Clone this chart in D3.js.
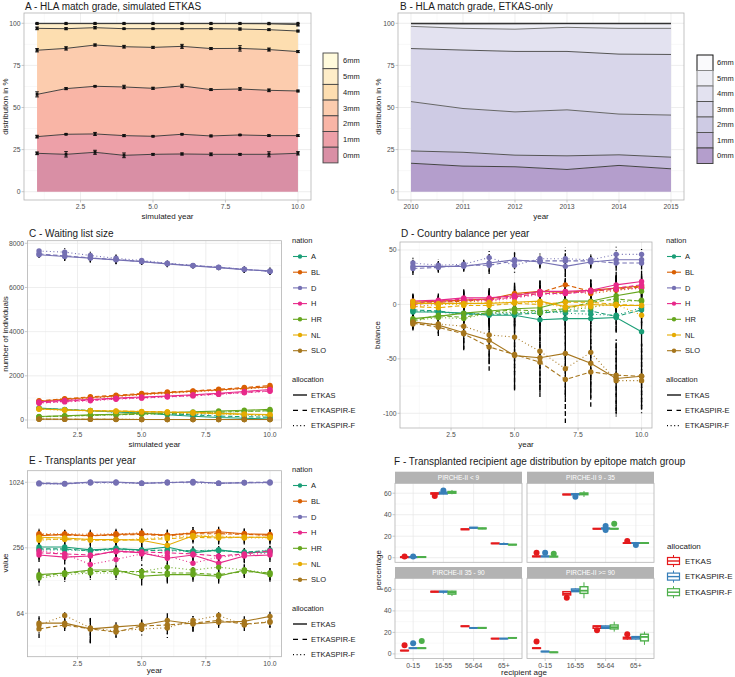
<!DOCTYPE html>
<html><head><meta charset="utf-8">
<script src="https://cdn.jsdelivr.net/npm/d3@7"></script>
<style>body{margin:0;background:#fff}</style>
</head><body><script>
// ---------------- DATA ----------------
const simYears = [1,2,3,4,5,6,7,8,9,10];
const realYears = [2010,2011,2012,2013,2014,2015];
const grades = ["0mm","1mm","2mm","3mm","4mm","5mm","6mm"];
// Panel A: cumulative upper boundary (%) of each grade per simulated year
const simCum0 = [22.8,22.2,23.4,21.6,22.2,22.4,22.2,22.2,22.2,22.8];
const simCum1 = [32.7,34.1,34.3,33.3,32.9,34.1,33.1,33.7,33.3,33.3];
const simCum2 = [57.8,61.2,62.6,62.2,61.4,62.8,60.6,61.0,60.2,59.8];
const simCum3 = [84.0,85.1,87.1,86.1,85.7,86.3,85.0,85.1,84.4,83.2];
const simCum4 = [97.0,96.8,97.4,96.8,96.8,96.8,96.8,96.6,96.2,95.4];
const simCum5 = [99.8,99.8,99.8,99.8,99.8,99.8,99.8,99.8,99.7,99.2];
const simCum6 = [100,100,100,100,100,100,100,100,100,100];
const simErr0 = [0.8,1.6,1.2,1.4,0.5,0.6,0.8,0.5,1.5,1.0];
const simErr1 = [0.8,0.3,0.9,0.6,0.3,0.3,0.5,0.3,0.5,0.5];
const simErr2 = [1.5,0.6,0.3,1.0,0.6,1.0,0.5,0.8,0.8,0.5];
const simErr3 = [1.0,1.0,0.6,0.8,0.6,1.2,0.6,1.6,0.9,0.6];
const simErr4 = [0.8,0.6,0.7,0.3,0.3,0.3,0.5,0.6,0.5,0.5];
const simErr5 = [0.2,0.2,0.2,0.2,0.2,0.2,0.2,0.2,0.3,0.8];
const simErr6 = [0,0,0,0,0,0,0,0,0,0];
// Panel B: observed ETKAS cumulative boundaries
const obsCum0 = [16.9,15.2,14.8,13.2,15.6,13.6];
const obsCum1 = [24.2,23.4,21.7,21.3,21.9,20.5];
const obsCum2 = [53.5,49.4,47.4,48.6,46.1,45.5];
const obsCum3 = [85.0,84.1,83.3,83.3,81.7,81.5];
const obsCum4 = [98.2,97.0,96.5,97.6,97.0,97.0];
const obsCum5 = [99.6,99.4,99.5,99.7,99.6,99.6];
const obsCum6 = [100,100,100,100,100,100];

const nations = ["A","BL","D","H","HR","NL","SLO"];
const allocations = ["ETKAS","ETKASPIR-E","ETKASPIR-F"];
// Panel C: waiting list size [ETKAS, ETKASPIR-E, ETKASPIR-F]
const waitA   = [[540,470,420,360,320,240,170,110,80,40],[520,480,430,380,330,280,230,180,150,120],[520,470,410,360,310,270,240,300,230,180]];
const waitBL  = [[850,940,1020,1090,1170,1240,1300,1360,1440,1500],[870,960,1050,1120,1200,1270,1320,1390,1470,1560],[820,910,990,1060,1140,1210,1270,1340,1410,1480]];
const waitD   = [[7480,7400,7330,7250,7170,7070,6980,6900,6810,6750],[7520,7430,7340,7260,7180,7080,6990,6910,6820,6730],[7650,7600,7450,7320,7220,7100,7000,6920,6830,6720]];
const waitH   = [[820,890,930,990,1040,1080,1140,1210,1290,1380],[780,850,900,960,1010,1060,1110,1180,1250,1320],[760,820,870,940,990,1040,1090,1160,1230,1300]];
const waitHR  = [[160,190,230,260,300,330,370,410,440,480],[150,180,210,240,270,300,330,360,390,420],[140,170,200,230,260,290,320,350,380,420]];
const waitNL  = [[500,450,420,400,380,360,340,300,270,250],[510,460,430,410,390,370,330,290,250,230],[490,440,410,380,360,350,310,280,240,210]];
const waitSLO = [[40,35,30,30,25,25,20,20,20,20],[35,30,30,25,25,20,20,20,20,20],[40,35,30,30,25,25,25,20,20,20]];
const waitErr = [[40,40,40,40,40,40,40,40,40,40],[50,50,50,50,50,50,60,60,60,60],[150,200,200,200,150,150,120,120,150,150],[50,50,50,50,50,50,60,60,60,60],[30,30,30,30,30,30,30,30,30,30],[40,40,40,40,40,40,40,40,40,40],[10,10,10,10,10,10,10,10,10,10]];
// Panel D: country balance
const balA   = [[-7,-7,-8,-10,-10,-14,-13,-13,-12,-25],[-5,-6,-9,-9,-9,-8,-6,-6,-11,-5],[-6,-7,-9,-8,-8,-6,-8,-9,-10,-3]];
const balBL  = [[2,3,4,5,10,12,11,13,15,17],[0,2,3,5,9,11,18,12,14,16],[-2,0,2,4,7,10,12,10,13,15]];
const balD   = [[35,35,35,38,41,39,35,39,41,41],[33,34,36,36,40,40,40,40,38,38],[38,36,37,43,36,42,42,41,46,46]];
const balH   = [[3,4,6,6,8,12,12,13,18,21],[1,3,5,4,7,10,10,12,15,18],[0,2,4,3,6,9,10,12,14,15]];
const balHR  = [[-13,-11,-8,-6,-4,-3,3,3,8,12],[-15,-10,-12,-7,-5,-6,-4,2,5,3],[-15,-12,-13,-8,-7,-8,-5,-3,2,4]];
const balNL  = [[1,1,1,1,2,3,-2,0,-1,-1],[-2,-3,-1,-1,1,0,2,2,0,-1],[3,0,0,2,2,2,-3,-2,0,-10]];
const balSLO = [[-16,-19,-26,-33,-47,-49,-45,-54,-68,-66],[-17,-21,-27,-39,-46,-53,-69,-62,-65,-66],[-18,-18,-20,-28,-30,-43,-59,-44,-70,-70]];
const balErr = [[8,8,8,10,12,12,14,12,14,14],[7,6,8,9,10,10,12,10,12,10],[6,5,5,8,7,6,10,6,7,6],[7,6,8,9,10,10,12,10,12,10],[8,8,9,10,12,12,14,12,14,12],[8,7,8,10,10,10,12,10,12,10],[6,8,15,22,32,32,40,32,33,30]];
// Panel E: transplants per year
const txA   = [[260,260,245,250,245,260,230,245,230,235],[250,250,240,255,240,245,240,240,235,240],[245,245,240,245,245,240,240,245,230,245]];
const txBL  = [[330,340,330,340,345,335,350,360,345,340],[340,335,330,335,340,330,345,345,340,335],[345,345,340,345,350,335,355,350,345,330]];
const txD   = [[1000,990,1030,1030,1000,1020,1030,1010,1010,1020],[1010,1000,1020,1020,1010,1010,1040,1000,1020,1030],[990,990,1010,1010,1000,1030,1010,1000,1020,1010]];
const txH   = [[220,210,215,240,230,205,220,185,215,220],[230,225,220,235,235,230,225,215,225,240],[240,225,180,200,225,215,185,210,220,230]];
const txHR  = [[145,150,160,160,140,145,145,140,160,145],[140,150,155,155,155,150,150,145,155,150],[135,145,150,150,155,170,160,170,160,150]];
const txNL  = [[320,315,305,305,300,270,330,320,320,320],[310,305,300,300,305,310,320,315,320,320],[300,310,305,300,310,320,330,330,315,315]];
const txSLO = [[52,52,46,48,50,55,51,53,54,60],[46,50,46,43,49,50,52,55,51,53],[50,61,47,44,46,47,55,61,50,54]];
const txErr = [[25,20,20,25,20,25,25,20,20,25],[40,35,40,40,40,40,45,40,40,40],[30,30,30,30,30,30,30,30,30,30],[30,30,30,30,30,35,30,30,30,30],[20,20,20,20,25,25,20,20,20,20],[40,35,35,40,40,35,40,40,40,40],[8,6,12,5,6,9,8,6,6,6]];
// Panel F: boxplot stats [whiskerLow, q1, median, q3, whiskerHigh, outliers...]
const ageGroups = ["0-15","16-55","56-64","65+"];
const facetNames = ["PIRCHE-II < 9","PIRCHE-II 9 - 35","PIRCHE-II 35 - 90","PIRCHE-II >= 90"];
const boxLt9 = [
  [[0,0.2,0.5,0.8,1.0,1.2],[0,0.2,0.5,0.8,1.0,1.2],[0,0.3,0.6,0.9,1.1]],
  [[58.8,59.2,59.8,60.3,60.6,57.5],[59,59.3,60,61,61.5,62.5],[59,60,60.6,61.6,63]],
  [[25.8,26.1,26.4,26.8,27.1],[27.2,27.5,27.9,28.2,28.5],[26.5,26.9,27.2,27.6,28]],
  [[12.9,13.1,13.3,13.5,13.7],[12.2,12.5,12.7,13.0,14.2],[11.6,11.9,12.1,12.4,12.6]]];
const box9to35 = [
  [[0.6,0.9,1.2,1.5,1.8,4.6],[0.6,0.9,1.2,1.5,1.8,4.6],[0.5,0.8,1.0,1.3,1.6,3.7]],
  [[58.3,58.5,58.8,59.1,59.3],[58.3,58.6,59,59.5,59.8,56.7],[56.5,58.6,59.4,60.2,62]],
  [[26.4,26.7,26.9,27.2,27.4],[26.2,26.8,27.2,27.6,28.2,29.4,25.7],[26.4,26.7,26.9,27.2,27.6,31.6]],
  [[13.2,13.4,13.6,13.8,14,15.5],[13.2,13.4,13.6,13.8,14,11.8],[13.1,13.4,13.6,13.9,14.1]]];
const box35to90 = [
  [[2.7,2.9,3.1,3.3,3.5,8.0],[4.8,5.1,5.3,5.6,5.8,9.9],[4.8,5.1,5.3,5.6,5.8,12.1]],
  [[57.2,57.5,57.9,58.2,58.6],[56,57.5,57.9,58.3,58.6],[53.8,55.6,57,58.3,58.8]],
  [[25.3,25.5,25.7,26,26.3],[23.8,24,24.1,24.4,24.6],[23.6,23.9,24.1,24.5,24.8]],
  [[13.9,14.1,14.2,14.4,14.5],[13.9,14.1,14.2,14.4,14.5],[14.5,14.7,14.9,15.1,15.3]]];
const boxGe90 = [
  [[4.8,5.1,5.3,5.6,5.8,11.5],[1.8,2,2.2,2.4,2.6],[1.1,1.3,1.5,1.7,1.9]],
  [[54.5,54.8,56,57.9,58.2,52.3],[57.6,57.9,59.1,60.4,61],[51.7,56.3,58.8,62.5,66.6]],
  [[23.5,23.8,25.7,26,26.3,22],[23.6,23.8,24.8,26,26.4],[20.7,23.2,24.8,26.9,30]],
  [[13,13.9,14.9,15.5,16,18.3],[13.2,13.9,15.2,16.1,16.5],[8.4,12.1,15.8,18.3,20.7]]];

// ---------------- STYLE ----------------
const FONT = '"Liberation Sans", Arial, Helvetica, sans-serif';
const nationColors = ["#1B9E77","#D95F02","#7570B3","#E7298A","#66A61E","#E6AB02","#A6761D"];
const allocColors = ["#E41A1C","#377EB8","#4DAF4A"];
const dashes = [null,"4.5,2.5","1,2.6"];
const simFill = ["#D98FA5","#EDA0A8","#F9B5A6","#FCCCAE","#FDDEB0","#FEEDC8","#FFFADC"];
const obsFill = ["#B49ECC","#C4B9DC","#CECBE4","#D8D6EA","#E3E2F0","#EEEEF5","#FAFAFC"];
const obsLine = ["#444","#555","#666","#555","#777","#888","#111"];
const TICK = "#4D4D4D", GRID = "#E6E6E6", GRIDMIN = "#F0F0F0", BORDER = "#B3B3B3";

const svg = d3.select("body").append("svg").attr("width",735).attr("height",677)
  .style("font-family",FONT);

function text(x,y,s,size,o={}) {
  const t = svg.append("text").attr("x",x).attr("y",y).text(s)
    .attr("font-size",size).attr("fill",o.fill||"#1a1a1a")
    .attr("text-anchor",o.anchor||"start");
  if (o.rotate) t.attr("transform",`rotate(-90,${x},${y})`);
  return t;
}

function frame(b, xs, ys, o) {
  const g = svg.append("g");
  g.append("rect").attr("x",b.x0).attr("y",b.y0).attr("width",b.x1-b.x0).attr("height",b.y1-b.y0).attr("fill","#fff");
  (o.xMinor||[]).forEach(v=>g.append("line").attr("x1",xs(v)).attr("x2",xs(v)).attr("y1",b.y0).attr("y2",b.y1).attr("stroke",GRIDMIN).attr("stroke-width",0.5));
  (o.yMinor||[]).forEach(v=>g.append("line").attr("y1",ys(v)).attr("y2",ys(v)).attr("x1",b.x0).attr("x2",b.x1).attr("stroke",GRIDMIN).attr("stroke-width",0.5));
  (o.xMajor||[]).forEach(v=>g.append("line").attr("x1",xs(v)).attr("x2",xs(v)).attr("y1",b.y0).attr("y2",b.y1).attr("stroke",GRID).attr("stroke-width",0.7));
  (o.yMajor||[]).forEach(v=>g.append("line").attr("y1",ys(v)).attr("y2",ys(v)).attr("x1",b.x0).attr("x2",b.x1).attr("stroke",GRID).attr("stroke-width",0.7));
  g.append("rect").attr("x",b.x0).attr("y",b.y0).attr("width",b.x1-b.x0).attr("height",b.y1-b.y0).attr("fill","none").attr("stroke",BORDER).attr("stroke-width",0.8);
  if (o.showX!==false) (o.xMajor||[]).forEach((v,i)=>{
    g.append("line").attr("x1",xs(v)).attr("x2",xs(v)).attr("y1",b.y1).attr("y2",b.y1+2.5).attr("stroke",BORDER).attr("stroke-width",0.7);
    text(xs(v), b.y1+9, o.xLab ? o.xLab[i] : v, 6.8, {anchor:"middle", fill:TICK});
  });
  if (o.showY!==false) (o.yMajor||[]).forEach((v,i)=>{
    g.append("line").attr("y1",ys(v)).attr("y2",ys(v)).attr("x1",b.x0-2.5).attr("x2",b.x0).attr("stroke",BORDER).attr("stroke-width",0.7);
    text(b.x0-3.5, ys(v)+2.3, o.yLab ? o.yLab[i] : v, 6.8, {anchor:"end", fill:TICK});
  });
  return g;
}

// ---------------- PANEL A ----------------
(function(){
  const b={x0:24,x1:311,y0:13,y1:200};
  const x=d3.scaleLinear().domain([0.55,10.45]).range([b.x0,b.x1]);
  const y=d3.scaleLinear().domain([0,100]).range([191.7,23.3]);
  frame(b,x,y,{xMajor:[2.5,5,7.5,10],xLab:["2.5","5.0","7.5","10.0"],xMinor:[1.25,3.75,6.25,8.75],yMajor:[0,25,50,75,100],yMinor:[12.5,37.5,62.5,87.5]});
  const cums=[simCum0,simCum1,simCum2,simCum3,simCum4,simCum5,simCum6];
  const errs=[simErr0,simErr1,simErr2,simErr3,simErr4,simErr5,simErr6];
  const g=svg.append("g");
  cums.forEach((c,k)=>{
    const lower = k===0 ? simYears.map(()=>0) : cums[k-1];
    const area=d3.area().x((d,i)=>x(simYears[i])).y0((d,i)=>y(lower[i])).y1(d=>y(d));
    g.append("path").datum(c).attr("d",area).attr("fill",simFill[k]);
  });
  cums.forEach((c,k)=>{
    g.append("path").datum(c).attr("d",d3.line().x((d,i)=>x(simYears[i])).y(d=>y(d))).attr("fill","none").attr("stroke","#333").attr("stroke-width",0.9);
    c.forEach((v,i)=>{
      const e=errs[k][i], cx=x(simYears[i]);
      if(e>0){
        g.append("line").attr("x1",cx).attr("x2",cx).attr("y1",y(v-e)).attr("y2",y(v+e)).attr("stroke","#111").attr("stroke-width",1);
        [v-e,v+e].forEach(w=>g.append("line").attr("x1",cx-1.8).attr("x2",cx+1.8).attr("y1",y(w)).attr("y2",y(w)).attr("stroke","#111").attr("stroke-width",1));
      }
      g.append("rect").attr("x",cx-1.4).attr("y",y(v)-1.4).attr("width",2.8).attr("height",2.8).attr("fill","#111");
    });
  });
  text(25,10,"A - HLA match grade, simulated ETKAS",10);
  text(167.5,219,"simulated year",8,{anchor:"middle"});
  text(8,106.5,"distribution in %",8,{anchor:"middle",rotate:true});
  // legend
  const kh=15.7;
  grades.slice().reverse().forEach((gname,i)=>{
    const k=grades.length-1-i;
    svg.append("rect").attr("x",323).attr("y",53+i*kh).attr("width",15).attr("height",kh).attr("fill",simFill[k]).attr("stroke","#444").attr("stroke-width",0.9);
    text(343,53+i*kh+kh/2+2.6,gname,7.5);
  });
})();

// ---------------- PANEL B ----------------
(function(){
  const b={x0:398,x1:684,y0:13,y1:200};
  const x=d3.scaleLinear().domain([2009.75,2015.25]).range([b.x0,b.x1]);
  const y=d3.scaleLinear().domain([0,100]).range([191.7,23.3]);
  frame(b,x,y,{xMajor:realYears,xMinor:[2010.5,2011.5,2012.5,2013.5,2014.5],yMajor:[0,25,50,75,100],yMinor:[12.5,37.5,62.5,87.5]});
  const cums=[obsCum0,obsCum1,obsCum2,obsCum3,obsCum4,obsCum5,obsCum6];
  const g=svg.append("g");
  cums.forEach((c,k)=>{
    const lower = k===0 ? realYears.map(()=>0) : cums[k-1];
    const area=d3.area().x((d,i)=>x(realYears[i])).y0((d,i)=>y(lower[i])).y1(d=>y(d));
    g.append("path").datum(c).attr("d",area).attr("fill",obsFill[k]);
  });
  cums.forEach((c,k)=>{
    g.append("path").datum(c).attr("d",d3.line().x((d,i)=>x(realYears[i])).y(d=>y(d))).attr("fill","none").attr("stroke",obsLine[k]).attr("stroke-width",1);
  });
  text(400,10,"B - HLA match grade, ETKAS-only",10);
  text(541,219,"year",8,{anchor:"middle"});
  text(381,106.5,"distribution in %",8,{anchor:"middle",rotate:true});
  const kh=15.5;
  grades.slice().reverse().forEach((gname,i)=>{
    const k=grades.length-1-i;
    svg.append("rect").attr("x",697).attr("y",55+i*kh).attr("width",16).attr("height",kh).attr("fill",obsFill[k]).attr("stroke",obsLine[k]).attr("stroke-width",1);
    text(717,55+i*kh+kh/2+2.6,gname,7.5);
  });
})();

// ---------------- generic nation line panel ----------------
function nationPanel(b, x, y, series, errs, opts){
  frame(b,x,y,opts.frame);
  const g=svg.append("g");
  series.forEach((s,n)=>{
    s.forEach((vals,a)=>{
      const p=g.append("path").datum(vals).attr("d",d3.line().x((d,i)=>x(simYears[i])).y(d=>y(d)))
        .attr("fill","none").attr("stroke",nationColors[n]).attr("stroke-width",1.1);
      if(dashes[a]) p.attr("stroke-dasharray",dashes[a]);
    });
  });
  series.forEach((s,n)=>{
    s.forEach((vals,a)=>{
      vals.forEach((v,i)=>{
        const e=errs[n][i]; const cx=x(simYears[i]);
        const l=g.append("line").attr("x1",cx).attr("x2",cx).attr("y1",y(Math.max(v-e,opts.minV||-1e9))).attr("y2",y(v+e)).attr("stroke","#000").attr("stroke-width",1.3);
        if(dashes[a]) l.attr("stroke-dasharray",dashes[a]);
      });
    });
  });
  series.forEach((s,n)=>{
    s.forEach((vals,a)=>{
      vals.forEach((v,i)=>{
        g.append("circle").attr("cx",x(simYears[i])).attr("cy",y(v)).attr("r",2.7).attr("fill",nationColors[n]);
      });
    });
  });
}
function nationLegend(lx, ty){
  text(lx, ty+2.5, "nation", 7.5);
  nations.forEach((nm,i)=>{
    const cy=ty+16.5+i*15.7;
    svg.append("line").attr("x1",lx+1).attr("x2",lx+15).attr("y1",cy).attr("y2",cy).attr("stroke",nationColors[i]).attr("stroke-width",1.1);
    svg.append("circle").attr("cx",lx+8).attr("cy",cy).attr("r",2.2).attr("fill",nationColors[i]);
    text(lx+19, cy+2.6, nm, 7.5);
  });
  const at=ty+139.3;
  text(lx, at+2.5, "allocation", 7.5);
  allocations.forEach((al,i)=>{
    const cy=at+15.7+i*15.3;
    const l=svg.append("line").attr("x1",lx+1).attr("x2",lx+15).attr("y1",cy).attr("y2",cy).attr("stroke","#000").attr("stroke-width",1.3);
    if(dashes[i]) l.attr("stroke-dasharray", i===1 ? "5,4.5" : "1,2.6");
    text(lx+19, cy+2.6, al, 7.5);
  });
}

// ---------------- PANEL C ----------------
(function(){
  const b={x0:27.5,x1:281.5,y0:240.7,y1:428};
  const x=d3.scaleLinear().domain([0.55,10.45]).range([b.x0,b.x1]);
  const y=d3.scaleLinear().domain([0,8000]).range([420,243.3]);
  nationPanel(b,x,y,[waitA,waitBL,waitD,waitH,waitHR,waitNL,waitSLO],waitErr,
    {frame:{xMajor:[2.5,5,7.5,10],xLab:["2.5","5.0","7.5","10.0"],xMinor:[1.25,3.75,6.25,8.75],yMajor:[0,2000,4000,6000,8000],yMinor:[1000,3000,5000,7000]}});
  text(29,236.5,"C - Waiting list size",10);
  text(154.5,447,"simulated year",8,{anchor:"middle"});
  text(8,334,"number of individuals",8,{anchor:"middle",rotate:true});
  nationLegend(292,240);
})();

// ---------------- PANEL D ----------------
(function(){
  const b={x0:400,x1:652,y0:242,y1:428};
  const x=d3.scaleLinear().domain([0.55,10.45]).range([401.5,653]);
  const y=d3.scaleLinear().domain([-100,50]).range([413.3,250]);
  nationPanel(b,x,y,[balA,balBL,balD,balH,balHR,balNL,balSLO],balErr,
    {frame:{xMajor:[2.5,5,7.5,10],xLab:["2.5","5.0","7.5","10.0"],xMinor:[1.25,3.75,6.25,8.75],yMajor:[-100,-50,0,50],yMinor:[-75,-25,25]}});
  text(401,237,"D - Country balance per year",10);
  text(526,447,"year",8,{anchor:"middle"});
  text(380,335,"balance",8,{anchor:"middle",rotate:true});
  nationLegend(666,240);
})();

// ---------------- PANEL E ----------------
(function(){
  const b={x0:27.5,x1:281.5,y0:470.7,y1:656.7};
  const x=d3.scaleLinear().domain([0.55,10.45]).range([b.x0,b.x1]);
  const y=d3.scaleLog().base(2).domain([64,1024]).range([613.3,482.3]);
  nationPanel(b,x,y,[txA,txBL,txD,txH,txHR,txNL,txSLO],txErr,
    {minV:28,frame:{xMajor:[2.5,5,7.5,10],xLab:["2.5","5.0","7.5","10.0"],xMinor:[1.25,3.75,6.25,8.75],yMajor:[64,256,1024],yMinor:[32,128,512]}});
  text(29,464,"E - Transplants per year",10);
  text(154.5,673,"year",8,{anchor:"middle"});
  text(8,563,"value",8,{anchor:"middle",rotate:true});
  nationLegend(292,469);
})();

// ---------------- PANEL F ----------------
(function(){
  text(394,465,"F - Transplanted recipient age distribution by epitope match group",10);
  const facets=[boxLt9,box9to35,box35to90,boxGe90];
  const cols=[[395,522],[527,654]];
  const rows=[{s0:471.7,p0:483.3,p1:562.3},{s0:567,p0:578.3,p1:658.5}];
  facets.forEach((data,fi)=>{
    const c=cols[fi%2], r=rows[Math.floor(fi/2)];
    const b={x0:c[0],x1:c[1],y0:r.p0,y1:r.p1};
    const x=d3.scalePoint().domain(ageGroups).range([c[0],c[1]]).padding(0.6);
    const y=d3.scaleLinear().domain([0,60]).range([r.p1-4.6,r.p1-4.6-64.5]);
    const fx=v=>x(v);
    frame(b,fx,y,{xMajor:ageGroups,yMajor:[0,20,40,60],yMinor:[10,30,50],showX:fi>=2,showY:fi%2===0});
    // strip
    svg.append("rect").attr("x",c[0]).attr("y",r.s0).attr("width",c[1]-c[0]).attr("height",r.p0-r.s0).attr("fill","#B3B3B3");
    text((c[0]+c[1])/2, r.p0-3, facetNames[fi], 6.5, {anchor:"middle", fill:"#fff"});
    const g=svg.append("g");
    const off=[-8.6,0,8.6], bw=7.8;
    data.forEach((grp,gi)=>{
      grp.forEach((st,ai)=>{
        const cx=x(ageGroups[gi])+off[ai], col=allocColors[ai];
        g.append("line").attr("x1",cx).attr("x2",cx).attr("y1",y(st[0])).attr("y2",y(st[1])).attr("stroke",col).attr("stroke-width",1);
        g.append("line").attr("x1",cx).attr("x2",cx).attr("y1",y(st[3])).attr("y2",y(st[4])).attr("stroke",col).attr("stroke-width",1);
        g.append("rect").attr("x",cx-bw/2).attr("y",y(st[3])).attr("width",bw).attr("height",Math.max(0.1,y(st[1])-y(st[3]))).attr("fill","#fff").attr("stroke",col).attr("stroke-width",1.4);
        g.append("line").attr("x1",cx-bw/2).attr("x2",cx+bw/2).attr("y1",y(st[2])).attr("y2",y(st[2])).attr("stroke",col).attr("stroke-width",1.8);
        st.slice(5).forEach(o=>g.append("circle").attr("cx",cx).attr("cy",y(o)).attr("r",3).attr("fill",col));
      });
    });
  });
  text(524,675,"recipient age",8,{anchor:"middle"});
  text(381,570,"percentage",8,{anchor:"middle",rotate:true});
  // legend
  text(667,549,"allocation",8);
  allocations.forEach((al,i)=>{
    const cy=561+i*15.6, col=allocColors[i], kx=673.5;
    svg.append("line").attr("x1",kx).attr("x2",kx).attr("y1",cy-6).attr("y2",cy+6).attr("stroke",col).attr("stroke-width",1);
    svg.append("rect").attr("x",kx-6).attr("y",cy-3.5).attr("width",12).attr("height",7).attr("fill","#fff").attr("stroke",col).attr("stroke-width",1.2);
    svg.append("line").attr("x1",kx-6).attr("x2",kx+6).attr("y1",cy).attr("y2",cy).attr("stroke",col).attr("stroke-width",1.4);
    text(685,cy+2.8,al,8);
  });
})();
</script></body></html>
